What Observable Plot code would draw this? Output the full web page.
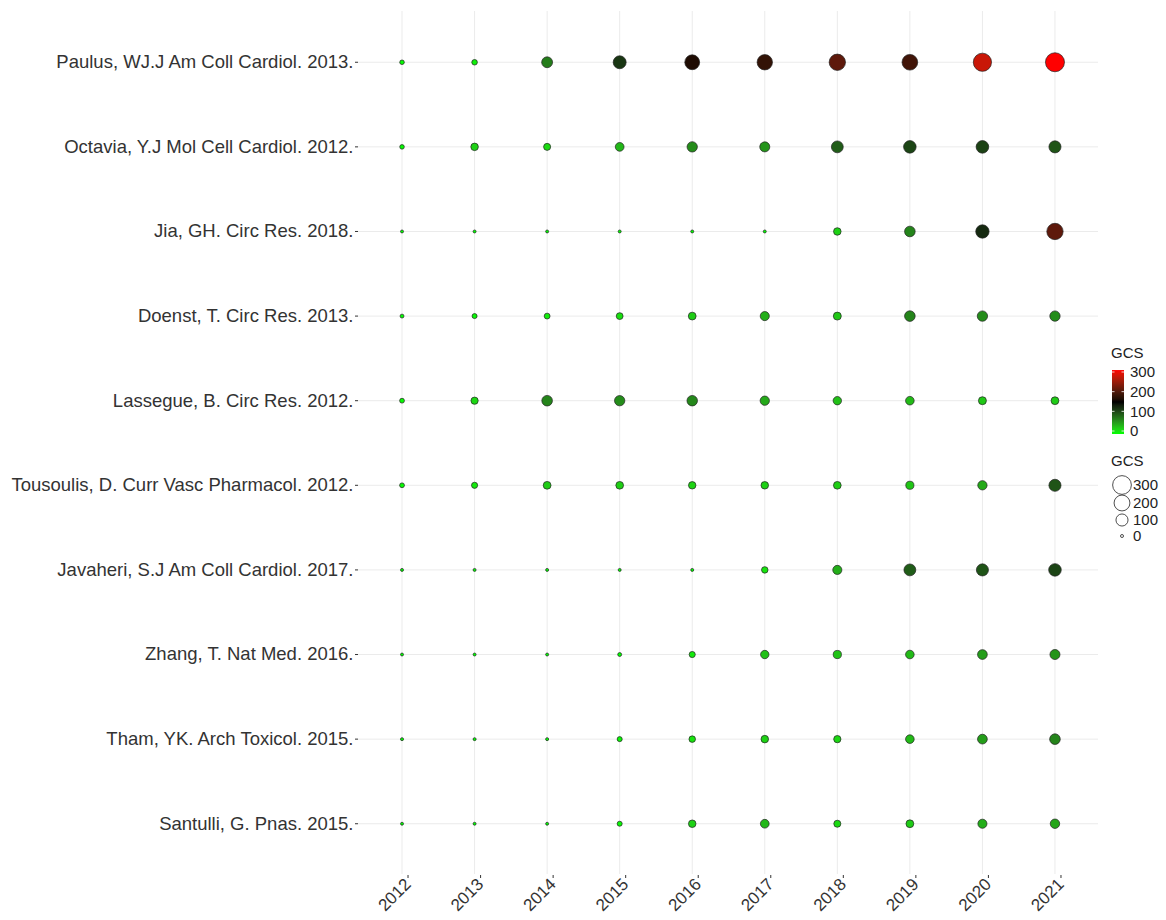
<!DOCTYPE html>
<html><head><meta charset="utf-8">
<script src="https://cdn.jsdelivr.net/npm/d3@7"></script>
<script src="https://cdn.jsdelivr.net/npm/@observablehq/plot@0.6"></script>
<style>
body{margin:0;background:#fff;font-family:"Liberation Sans",Arial,sans-serif;}
#wrap{position:relative;width:1166px;height:920px;}
#legend{position:absolute;left:0;top:0;pointer-events:none;}
</style></head><body><div id="wrap"></div>
<script>
const articles = [
  "Paulus, WJ.J Am Coll Cardiol. 2013.",
  "Octavia, Y.J Mol Cell Cardiol. 2012.",
  "Jia, GH. Circ Res. 2018.",
  "Doenst, T. Circ Res. 2013.",
  "Lassegue, B. Circ Res. 2012.",
  "Tousoulis, D. Curr Vasc Pharmacol. 2012.",
  "Javaheri, S.J Am Coll Cardiol. 2017.",
  "Zhang, T. Nat Med. 2016.",
  "Tham, YK. Arch Toxicol. 2015.",
  "Santulli, G. Pnas. 2015."
];
const years = [2012, 2013, 2014, 2015, 2016, 2017, 2018, 2019, 2020, 2021];

const gcsPaulus    = [3, 8, 75, 120, 170, 185, 215, 195, 280, 310];
const gcsOctavia   = [3, 25, 20, 40, 65, 60, 95, 110, 112, 100];
const gcsJia       = [0, 0, 0, 0, 0, 0, 25, 70, 130, 215];
const gcsDoenst    = [1, 5, 10, 18, 28, 45, 30, 70, 65, 65];
const gcsLassegue  = [4, 22, 70, 65, 68, 48, 35, 38, 30, 28];
const gcsTousoulis = [4, 12, 28, 27, 24, 25, 27, 32, 48, 100];
const gcsJavaheri  = [0, 0, 0, 0, 0, 15, 45, 95, 100, 110];
const gcsZhang     = [0, 0, 0, 1, 12, 35, 33, 38, 55, 60];
const gcsTham      = [0, 0, 0, 5, 15, 25, 22, 38, 55, 70];
const gcsSantulli  = [0, 0, 0, 5, 25, 40, 20, 28, 45, 50];

const series = [gcsPaulus, gcsOctavia, gcsJia, gcsDoenst, gcsLassegue,
                gcsTousoulis, gcsJavaheri, gcsZhang, gcsTham, gcsSantulli];
const legendTicks = [0, 100, 200, 300];

const rows = [];
articles.forEach((a, i) => years.forEach((yr, j) => rows.push({article: a, year: String(yr), gcs: series[i][j]})));
const gcsMax = d3.max(rows, d => d.gcs);

const colorDomain = [0, gcsMax / 2, gcsMax];
const colorRange = ["#00ff00", "#000000", "#ff0000"];
const rRange = [1.5, 9.5];

const chart = Plot.plot({
  width: 1166,
  height: 920,
  marginLeft: 358,
  marginRight: 68,
  marginTop: 11,
  marginBottom: 46,
  style: {fontFamily: "Liberation Sans, Arial, sans-serif", fontSize: "18px", color: "#333", background: "white"},
  x: {type: "point", domain: years.map(String), padding: 0.6, round: false, label: null},
  y: {type: "point", domain: articles, padding: 0.6, round: false, label: null},
  color: {type: "linear", domain: colorDomain, range: colorRange, interpolate: "lab"},
  r: {type: "sqrt", domain: [0, gcsMax], range: rRange},
  marks: [
    Plot.gridX({stroke: "#ebebeb", strokeOpacity: 1, strokeWidth: 1}),
    Plot.gridY({stroke: "#ebebeb", strokeOpacity: 1, strokeWidth: 1}),
    Plot.axisY({tickSize: 3, tickPadding: 2, stroke: "#333", fontSize: 18.5, fill: "#333"}),
    Plot.axisX({tickSize: 3, tickPadding: 3, tickRotate: -45, dx: 6, dy: 1, stroke: "#333", fontSize: 17, fill: "#333"}),
    Plot.dot(rows, {x: "year", y: "article", r: "gcs", fill: "gcs", stroke: "#222", strokeWidth: 0.7})
  ]
});
document.getElementById("wrap").appendChild(chart);

// Legends (right side), drawn from the same scale definitions
const colorScale = d3.scaleLinear().domain(colorDomain).range(colorRange).interpolate(d3.interpolateLab);
const rScale = d3.scaleSqrt().domain([0, gcsMax]).range(rRange);

const lg = d3.select("#wrap").append("svg").attr("id", "legend").attr("width", 1166).attr("height", 920)
  .style("font-family", "Liberation Sans, Arial, sans-serif");

// color bar
const barX = 1112, barW = 12;
const by = d3.scaleLinear().domain([0, 300]).range([431, 372]);
const barTop = by(gcsMax), barBottom = 434;
lg.append("text").attr("x", 1111).attr("y", 358).attr("font-size", 15).attr("fill", "#222").text("GCS");
const grad = lg.append("defs").append("linearGradient").attr("id", "gcsgrad")
  .attr("x1", 0).attr("y1", 1).attr("x2", 0).attr("y2", 0);
d3.range(0, 1.0001, 0.05).forEach(t => grad.append("stop").attr("offset", t).attr("stop-color", colorScale(t * gcsMax)));
lg.append("rect").attr("x", barX).attr("y", barTop).attr("width", barW).attr("height", barBottom - barTop).attr("fill", "url(#gcsgrad)");
legendTicks.forEach(v => {
  const y = by(v);
  lg.append("line").attr("x1", barX).attr("x2", barX + 2.5).attr("y1", y).attr("y2", y).attr("stroke", "white").attr("stroke-width", 0.8);
  lg.append("line").attr("x1", barX + barW - 2.5).attr("x2", barX + barW).attr("y1", y).attr("y2", y).attr("stroke", "white").attr("stroke-width", 0.8);
  lg.append("text").attr("x", 1130).attr("y", y).attr("dy", "0.35em").attr("font-size", 15).attr("fill", "#222").text(v);
});

// size legend
lg.append("text").attr("x", 1111).attr("y", 466).attr("font-size", 15).attr("fill", "#222").text("GCS");
const sizeY = [536, 520, 503, 485];
legendTicks.forEach((v, i) => {
  lg.append("circle").attr("cx", 1122).attr("cy", sizeY[i]).attr("r", rScale(v)).attr("fill", "none").attr("stroke", "#222").attr("stroke-width", 0.8);
  lg.append("text").attr("x", 1133).attr("y", sizeY[i]).attr("dy", "0.35em").attr("font-size", 15).attr("fill", "#222").text(v);
});
</script></body></html>
